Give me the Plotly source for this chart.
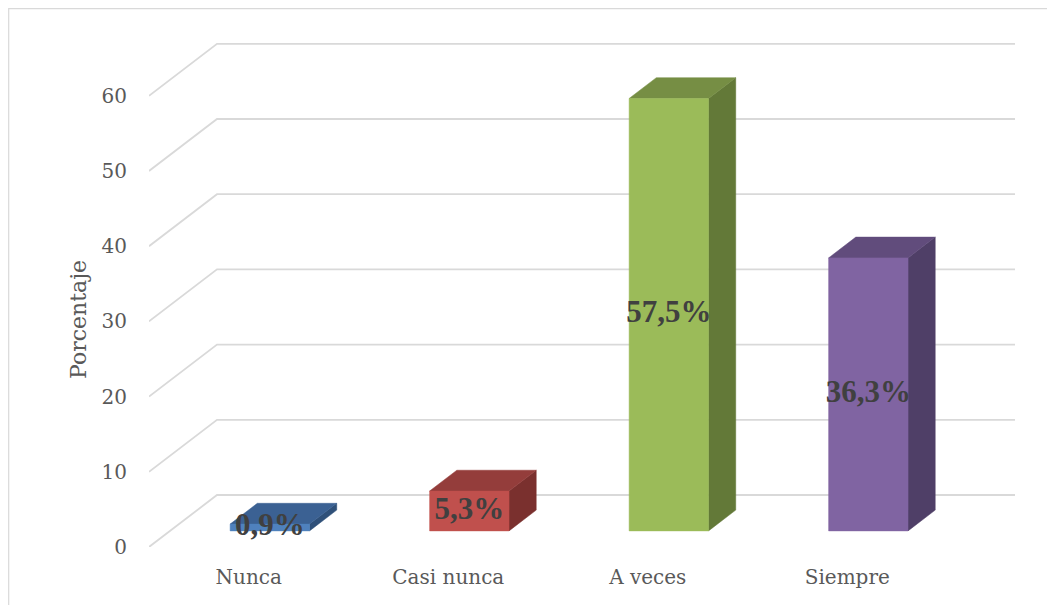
import plotly.graph_objects as go

# ---- data ----
categories = ["Nunca", "Casi nunca", "A veces", "Siempre"]
values = [0.9, 5.3, 57.5, 36.3]
value_labels = ["0,9%", "5,3%", "57,5%", "36,3%"]
y_ticks = [0, 10, 20, 30, 40, 50, 60]

front_colors = ["#4F81BD", "#C0504D", "#9BBB59", "#8064A2"]
top_colors = ["#3B6193", "#943D3B", "#768E44", "#614C7C"]
side_colors = ["#2F5079", "#7A302E", "#637938", "#4F3F67"]

# ---- geometry (layout) ----
OFF = 8  # page body margin
W, H = 1055, 605
ML = 149 - OFF
MT = 30 - OFF
MR = W - (1015 - OFF)
MB = H - (547 - OFF)
plot_w = W - ML - MR
plot_h = H - MT - MB
px_per_cat = 199.5
px_per_unit = 7.52
x_min = -0.5
x_max = x_min + plot_w / px_per_cat
y_max = plot_h / px_per_unit
DX = 68 / px_per_cat      # full depth offset in x units
DY = 52 / px_per_unit     # full depth offset in y units
z0, z1 = 0.31, 0.71       # bar depth span
hw = 0.199                # half bar width

fig = go.Figure()

# gridlines (side wall diagonal + back wall)
gx, gy = [], []
for t in y_ticks:
    gx += [x_min, x_min + DX, x_max, None]
    gy += [t, t + DY, t + DY, None]
fig.add_trace(go.Scatter(x=gx, y=gy, mode="lines",
                         line=dict(color="#D9D9D9", width=1.8),
                         hoverinfo="skip", showlegend=False))

# 3D bars
for i, v in enumerate(values):
    xl0 = i - hw + z0 * DX
    xr0 = i + hw + z0 * DX
    yb0 = z0 * DY
    yt0 = yb0 + v
    ddx = (z1 - z0) * DX
    ddy = (z1 - z0) * DY
    fig.add_trace(go.Scatter(
        x=[xr0, xr0, xr0 + ddx, xr0 + ddx, xr0],
        y=[yb0, yt0, yt0 + ddy, yb0 + ddy, yb0],
        mode="lines", fill="toself", fillcolor=side_colors[i],
        line=dict(color=side_colors[i], width=0.5),
        hoverinfo="skip", showlegend=False))
    fig.add_trace(go.Scatter(
        x=[xl0, xr0, xr0 + ddx, xl0 + ddx, xl0],
        y=[yt0, yt0, yt0 + ddy, yt0 + ddy, yt0],
        mode="lines", fill="toself", fillcolor=top_colors[i],
        line=dict(color=top_colors[i], width=0.5),
        hoverinfo="skip", showlegend=False))
    fig.add_trace(go.Scatter(
        x=[xl0, xr0, xr0, xl0, xl0],
        y=[yb0, yb0, yt0, yt0, yb0],
        mode="lines", fill="toself", fillcolor=front_colors[i],
        line=dict(color=front_colors[i], width=0.5),
        hoverinfo="skip", showlegend=False))

# data labels
fig.add_trace(go.Scatter(
    x=[i + z0 * DX for i in range(len(values))],
    y=[z0 * DY + v / 2 for v in values],
    mode="text", text=value_labels,
    textfont=dict(family="Liberation Serif", size=31, color="#404040", weight="bold"),
    textposition="middle center",
    hoverinfo="skip", showlegend=False))

# chart border (top and left visible)
fig.add_shape(type="rect", xref="paper", yref="paper",
              x0=(0.7 - ML) / plot_w, x1=(W + 10 - ML) / plot_w,
              y0=(H - MB - (H + 10)) / plot_h, y1=(H - MB - 0.7) / plot_h,
              line=dict(color="#D9D9D9", width=1.2), fillcolor="rgba(0,0,0,0)",
              layer="below")

# y-axis title
fig.add_annotation(text="Porcentaje", xref="paper", yref="paper",
                   x=(78 - OFF - ML) / plot_w, y=(H - MB - (320 - OFF)) / plot_h,
                   xanchor="center", yanchor="middle", textangle=-90, showarrow=False,
                   font=dict(family="DejaVu Serif", size=22, color="#595959"))

fig.update_layout(
    width=W, height=H,
    margin=dict(l=ML, r=MR, t=MT, b=MB),
    paper_bgcolor="white", plot_bgcolor="white",
    showlegend=False, hovermode=False,
    font=dict(family="DejaVu Serif", color="#595959", size=20),
    xaxis=dict(range=[x_min, x_max], tickmode="array",
               tickvals=list(range(len(categories))), ticktext=categories,
               showgrid=False, zeroline=False, showline=False, ticks="",
               ticklabelstandoff=16,
               tickfont=dict(family="DejaVu Serif", size=20, color="#595959")),
    yaxis=dict(range=[0, y_max], tickmode="array", tickvals=y_ticks,
               ticktext=[str(t) for t in y_ticks],
               showgrid=False, zeroline=False, showline=False, ticks="",
               ticklabelstandoff=21,
               tickfont=dict(family="DejaVu Serif", size=20, color="#595959")),
)

fig.write_html("out.html")
